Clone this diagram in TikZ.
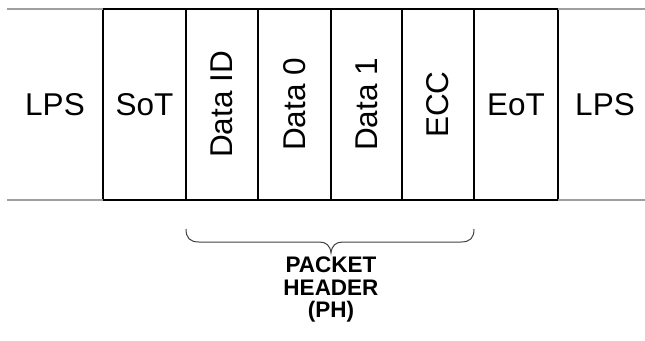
\documentclass[tikz,border=0pt]{standalone}
\usepackage{fontspec}
\setmainfont{Liberation Sans}
\begin{document}
\begin{tikzpicture}[x=1pt,y=-1pt,
  field/.style={draw=black,line width=1.5pt,inner sep=0pt,outer sep=0pt,minimum height=191pt,font=\fontsize{31.5}{36}\selectfont},
  plain/.style={inner sep=0pt,font=\fontsize{31.5}{36}\selectfont},
  lpsline/.style={draw=gray!75,line width=1.5pt},
  bracestyle/.style={draw=black!75,line width=1pt},
  label/.style={align=center,inner sep=0pt,font=\fontsize{22.5}{22.5}\selectfont\bfseries}]
\useasboundingbox (0,0) rectangle (645,340);
% fields
\node[field,minimum width=83pt] (sot) at (144.5,104.5) {SoT};
\node[field,rotate=90,minimum width=191pt,minimum height=72pt] (did) at (222,104.5) {Data ID};
\node[field,rotate=90,minimum width=191pt,minimum height=73pt] (d0) at (294.5,104.5) {Data 0};
\node[field,rotate=90,minimum width=191pt,minimum height=71pt] (d1) at (366.5,104.5) {Data 1};
\node[field,rotate=90,minimum width=191pt,minimum height=72pt] (ecc) at (438,104.5) {ECC};
\node[field,minimum width=84pt] (eot) at (516,104.5) {EoT};
% LPS
\node[plain] (lpsl) at (55,104.5) {LPS};
\node[plain] (lpsr) at (605,104.5) {LPS};
\coordinate (ltop) at (7,9);
\coordinate (lbot) at (7,200);
\coordinate (rtop) at (645,9);
\coordinate (rbot) at (645,200);
\draw[lpsline] (ltop) -- (sot.north west);
\draw[lpsline] (lbot) -- (sot.south west);
\draw[lpsline] (eot.north east) -- (rtop);
\draw[lpsline] (eot.south east) -- (rbot);
% brace
\coordinate (bl) at (186,229);
\coordinate (br) at (474,229);
\coordinate (btip) at (331,253);
\draw[bracestyle] (bl) .. controls (186,238) and (190,242) .. (199,242)
  -- (319,242) .. controls (326,242) and (330,245) .. (btip)
  .. controls (332,245) and (336,242) .. (343,242)
  -- (461,242) .. controls (470,242) and (474,238) .. (br);
\node[label] (ph) at (331,289.5) {PACKET\\HEADER\\(PH)};
\end{tikzpicture}
\end{document}
